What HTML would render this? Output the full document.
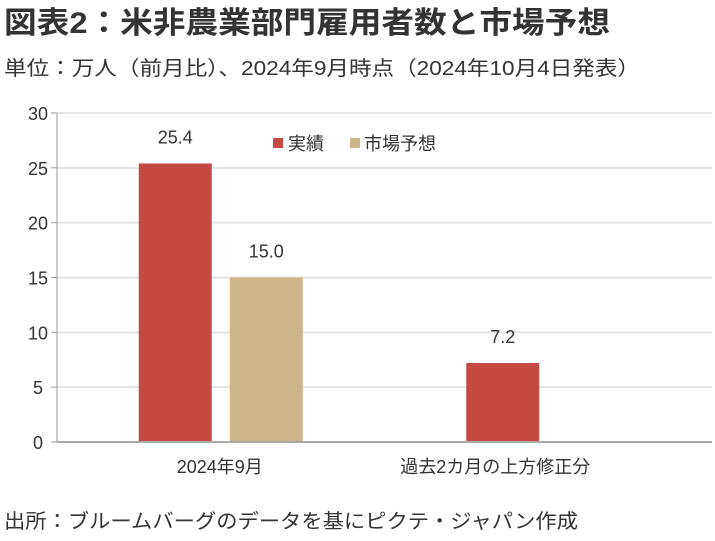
<!DOCTYPE html>
<html><head><meta charset="utf-8"><style>
body{margin:0;background:#fff}
svg{display:block;font-family:"Liberation Sans","Noto Sans CJK JP",sans-serif}
</style></head><body>
<svg id="c" width="715" height="541">
<text x="4" y="33" font-size="30" font-weight="bold" fill="#333" textLength="606" lengthAdjust="spacingAndGlyphs">図表2：米非農業部門雇用者数と市場予想</text>
<text x="4" y="75" font-size="20" fill="#333" textLength="636" lengthAdjust="spacingAndGlyphs">単位：万人（前月比）、2024年9月時点（2024年10月4日発表）</text>
<g id="grid"></g><g id="bars"></g><g id="axes"></g>
<g>
<rect x="273" y="138" width="10" height="10" fill="#C44A41"/>
<text x="288" y="150" font-size="18" fill="#333">実績</text>
<rect x="350" y="138" width="10" height="10" fill="#CDB48A"/>
<text x="364" y="150" font-size="18" fill="#333">市場予想</text>
</g>
<text x="4" y="528" font-size="20" fill="#333" textLength="574" lengthAdjust="spacingAndGlyphs">出所：ブルームバーグのデータを基にピクテ・ジャパン作成</text>
</svg>
<script>
const categories=["2024年9月","過去2カ月の上方修正分"];
const actual=[25.4,7.2];
const forecast=[15.0,null];
const yTicks=[0,5,10,15,20,25,30];
const NS="http://www.w3.org/2000/svg";
const x0=57,x1=712,yBase=442,yTop=113,yMax=30;
const y=v=>yBase-(v/yMax)*(yBase-yTop);
const bw=(x1-x0)/categories.length;
const cx=i=>x0+bw*i+bw/2+1;
function mk(t,a,p){const e=document.createElementNS(NS,t);for(const k in a)e.setAttribute(k,a[k]);p.appendChild(e);return e;}
const grid=document.getElementById('grid'),bars=document.getElementById('bars'),axes=document.getElementById('axes');
yTicks.forEach(v=>{
 if(v>0){const g=mk('line',{x1:x0,x2:x1,y1:y(v),y2:y(v),stroke:'#e3e3e3','stroke-width':2},grid);
 
 }
 const tk=mk('line',{x1:51,x2:x0,y1:y(v),y2:y(v),stroke:'#999'},axes);
 
 
 const t=mk('text',{x:38,y:y(v)+7,'font-size':18,fill:'#333','text-anchor':'middle'},axes);t.textContent=v;
 
 
});
const ax=mk('line',{x1:x0,x2:x0,y1:yTop,y2:yBase,stroke:'#999'},axes);


const xa=mk('line',{x1:x0,x2:x1,y1:yBase,y2:yBase,stroke:'#aaa','stroke-width':2},axes);


function bar(v,xl,col,name){
 const r=mk('rect',{x:xl,y:y(v),width:73,height:yBase-y(v),fill:col},bars);
 
 
 const t=mk('text',{x:xl+36.5,y:y(v)-20,'font-size':18,fill:'#333','text-anchor':'middle'},bars);t.textContent=v.toFixed(1);
 
 
}
categories.forEach((c,i)=>{
 if(actual[i]!=null)bar(actual[i],cx(i)-83,'#C44A41','bar-actual-'+i);
 if(forecast[i]!=null)bar(forecast[i],cx(i)+8,'#CDB48A','bar-forecast-'+i);
 const t=mk('text',{x:cx(i)-(i?54:2),y:473,'font-size':18,fill:'#333','text-anchor':'middle'},axes);t.textContent=c;
 
 
});
</script>
</body></html>
